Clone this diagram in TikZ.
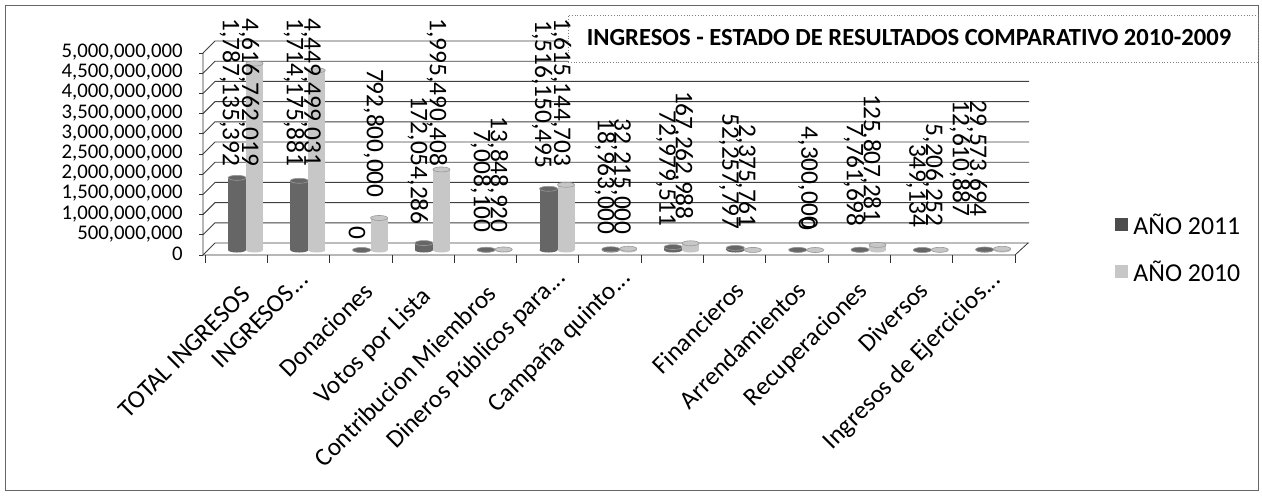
\documentclass[tikz,border=0pt]{standalone}
\usepackage{fontspec}
\setmainfont{Carlito}
\usepackage{tikz}
\usetikzlibrary{positioning}

% one cylinder bar: left x, right x, value (in 10^9), style
\newcommand{\barcyl}[4]{%
	\fill[#4] (#1,250) rectangle (#2,{250-40.4*#3});
	\fill[#4] ({((#1)+(#2))/2},250) ellipse [x radius={((#2)-(#1))/2}, y radius=2.5];
	\filldraw[#4, draw=black!40, line width=0.3pt] ({((#1)+(#2))/2},{250-40.4*#3}) ellipse [x radius={((#2)-(#1))/2}, y radius=2.5];
}

\begin{document}
\begin{tikzpicture}[x=0.5pt,y=-0.5pt,
	ylab/.style={anchor=east, inner sep=0pt, font=\fontsize{10.4}{12}\selectfont},
	catlab/.style={anchor=base east, rotate=45, inner sep=0pt, font=\fontsize{12.7}{14}\selectfont},
	vallab/.style={rotate=-90, inner sep=0pt, font=\fontsize{12.7}{14}\selectfont},
	leglab/.style={anchor=west, inner sep=0pt, font=\fontsize{12.9}{14}\selectfont},
	gridline/.style={draw=black!75, line width=0.45pt},
	darkbar/.style={fill=black!60},
	lightbar/.style={fill=black!22},
	titlebox/.style={draw=black!50, densely dotted, fill=white, inner sep=0pt, minimum width=345pt, minimum height=23.5pt}]
	\useasboundingbox (0,0) rectangle (1262,495);
	\draw[black!60] (5,5) rectangle (1258,490);
	
	% walls and floor
	\foreach \k in {0,...,10}
		\draw[gridline] (203,{255-20.2*\k}) -- (215,{243-20.2*\k}) -- (1029,{243-20.2*\k});
	\draw[black!80] (203,53) -- (203,255) -- (1015,255) -- (1028,243);
	\foreach \k in {0,...,10}
		\draw[black!80] (203,{255-20.2*\k}) -- ++(-4,0);
	\foreach \k in {0,...,13}
		\draw[black!80] ({205+62.3*\k},255) -- ++(0,8);
	
	% y axis
	\node[ylab] (y0) at (183,254) {0};
	\node[ylab] (y1) at (183,233.8) {500,000,000};
	\node[ylab] (y2) at (183,213.6) {1,000,000,000};
	\node[ylab] (y3) at (183,193.4) {1,500,000,000};
	\node[ylab] (y4) at (183,173.2) {2,000,000,000};
	\node[ylab] (y5) at (183,153) {2,500,000,000};
	\node[ylab] (y6) at (183,132.8) {3,000,000,000};
	\node[ylab] (y7) at (183,112.6) {3,500,000,000};
	\node[ylab] (y8) at (183,92.4) {4,000,000,000};
	\node[ylab] (y9) at (183,72.2) {4,500,000,000};
	\node[ylab] (y10) at (183,52) {5,000,000,000};
	
	% bars
	\foreach \c/\d/\l in {236/1.787/4.617, 298.3/1.714/4.449, 360.6/0/0.793, 422.9/0.172/1.995,
		485.2/0.007/0.014, 547.5/1.516/1.615, 609.8/0.019/0.032, 672.1/0.073/0.167,
		734.4/0.052/0.002, 796.7/0.004/0, 859/0.008/0.126, 921.3/0.0003/0.005, 983.6/0.013/0.030}{
		\barcyl{\c-8}{\c+10}{\d}{darkbar}
		\barcyl{\c+10}{\c+27}{\l}{lightbar}
	}
	
	% title
	\node[titlebox] (title) at (913,38.5) {};
	\node[font=\fontsize{12.3}{14}\selectfont\bfseries] (titletext) at (909,38) {INGRESOS - ESTADO DE RESULTADOS COMPARATIVO 2010-2009};
	
	% data labels
	\node[vallab, anchor=west] (d1) at (230,18) {1,787,135,392};
	\node[vallab, anchor=west] (l1) at (249,18) {4,616,762,019};
	\node[vallab, anchor=west] (d2) at (294,18) {1,714,175,881};
	\node[vallab, anchor=west] (l2) at (311,18) {4,449,499,031};
	\node[vallab, anchor=east] (d3) at (357,240) {0};
	\node[vallab, anchor=east] (l3) at (374,198) {792,800,000};
	\node[vallab, anchor=east] (d4) at (418,225) {172,054,286};
	\node[vallab, anchor=west] (l4) at (437,18) {1,995,490,408};
	\node[vallab, anchor=east] (d5) at (481,233) {7,008,100};
	\node[vallab, anchor=east] (l5) at (498,233) {13,848,920};
	\node[vallab, anchor=west] (d6) at (542,20) {1,516,150,495};
	\node[vallab, anchor=west] (l6) at (561,18) {1,615,144,703};
	\node[vallab, anchor=east] (d7) at (605,235) {18,963,000};
	\node[vallab, anchor=east] (l7) at (621,235) {32,215,000};
	\node[vallab, anchor=east] (d8) at (666,227) {72,979,511};
	\node[vallab, anchor=east] (l8) at (683,220) {167,262,988};
	\node[vallab, anchor=east] (d9) at (729,230) {52,257,797};
	\node[vallab, anchor=east] (l9) at (746,228) {2,375,761};
	\node[vallab, anchor=east] (d10) at (808,230) {4,300,000};
	\node[vallab, anchor=east] (l10) at (807,231) {0};
	\node[vallab, anchor=east] (d11) at (854,227) {7,761,698};
	\node[vallab, anchor=east] (l11) at (871,223) {125,807,281};
	\node[vallab, anchor=east] (d12) at (916,228) {349,134};
	\node[vallab, anchor=east] (l12) at (933,227) {5,206,252};
	\node[vallab, anchor=east] (d13) at (960,217) {12,610,887};
	\node[vallab, anchor=east] (l13) at (977,217) {29,573,694};
	
	% categories
	\node[catlab] (cat1) at (252,296) {TOTAL INGRESOS};
	\node[catlab] (cat2) at (310,281) {INGRESOS...};
	\node[catlab] (cat3) at (375,293) {Donaciones};
	\node[catlab] (cat4) at (432,298) {Votos por Lista};
	\node[catlab] (cat5) at (498,295) {Contribucion Miembros};
	\node[catlab] (cat6) at (567,279) {Dineros Públicos para...};
	\node[catlab] (cat7) at (632,279) {Campaña quinto...};
	\node[catlab] (cat9) at (746,292) {Financieros};
	\node[catlab] (cat10) at (808,292) {Arrendamientos};
	\node[catlab] (cat11) at (869,292) {Recuperaciones};
	\node[catlab] (cat12) at (930,292) {Diversos};
	\node[catlab] (cat13) at (1002,281) {Ingresos de Ejercicios...};
	
	% legend
	\fill[black!70] (1115,218) rectangle (1128,231);
	\coordinate (sw1) at (1128,224.5);
	\node[leglab, right=2.5pt of sw1] (leg1) {AÑO 2011};
	\fill[black!22] (1115,265) rectangle (1128,278);
	\coordinate (sw2) at (1128,271);
	\node[leglab, right=2.5pt of sw2] (leg2) {AÑO 2010};
\end{tikzpicture}
\end{document}
